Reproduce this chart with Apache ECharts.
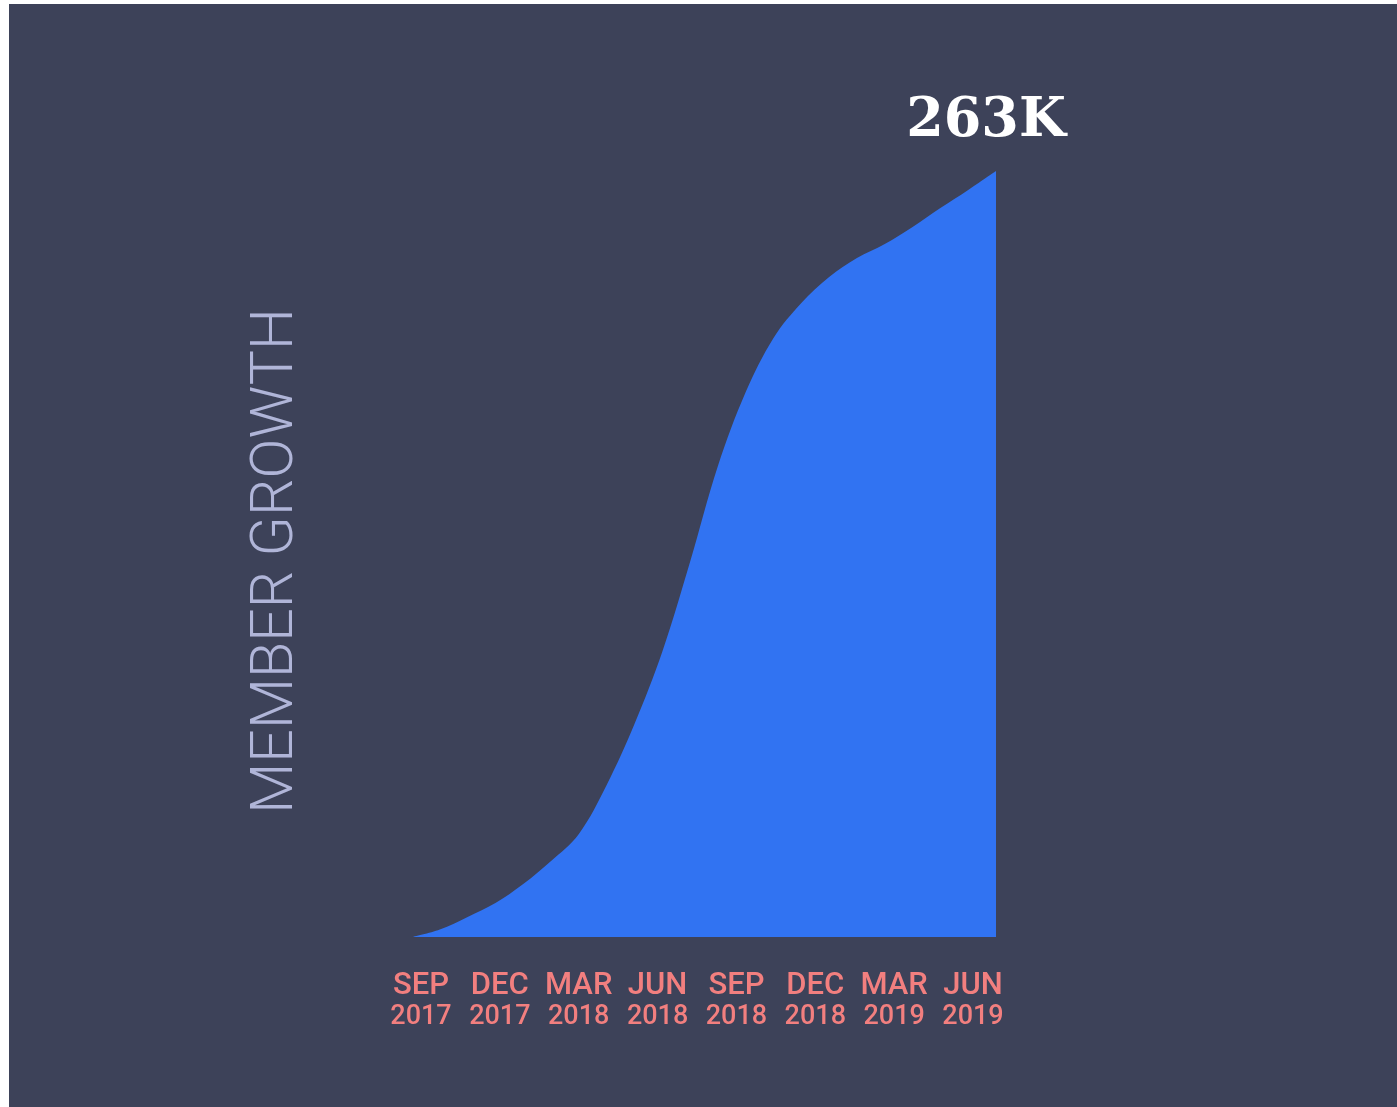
<!DOCTYPE html>
<html>
<head>
<meta charset="utf-8">
<script src="https://cdn.jsdelivr.net/npm/echarts@6/dist/echarts.min.js"></script>
<style>
  html, body { margin: 0; padding: 0; background: #ffffff; width: 1397px; height: 1107px; overflow: hidden; }
  #bg { position: absolute; left: 9px; top: 4px; width: 1388px; height: 1103px; background: #3d4259; }
  #chart { position: absolute; left: 0; top: 0; width: 1397px; height: 1107px; }
</style>
</head>
<body>
<div id="bg"></div>
<div id="chart"></div>
<script>
// Months since Sep 2017 (0 = Sep 2017 ... 21 = Jun 2019)
const monthIndex = [0,1,2,3,4,5,6,7,8,9,10,11,12,13,14,15,16,17,18,19,20,21];
// Members (thousands)
const members = [0, 2.6, 6.9, 11.7, 18.2, 26.1, 35.4, 52.2, 73.1, 97.9, 128.8, 161.7,
                 187.1, 205.7, 217.7, 226.6, 233.1, 237.9, 243.8, 250.3, 256.5, 263];
// Tick labels (every 3 months)
const tickMonths = ['SEP','DEC','MAR','JUN','SEP','DEC','MAR','JUN'];
const tickYears  = ['2017','2017','2018','2018','2018','2018','2019','2019'];
const axisTitle = 'MEMBER GROWTH';

const last = members.length - 1;
const seriesData = monthIndex.map((m, i) => [m, members[i]]);

const chart = echarts.init(document.getElementById('chart'), null, { renderer: 'canvas' });
chart.setOption({
  animation: false,
  backgroundColor: 'transparent',
  grid: [
    { left: 412, right: 401, top: 171, bottom: 170 },
    { left: 421, right: 424, top: 185, bottom: 170 }
  ],
  xAxis: [
    { type: 'value', gridIndex: 0, min: 0, max: 21, show: false },
    {
      type: 'value', gridIndex: 1, min: 0, max: 21, interval: 3,
      axisLine: { show: false }, axisTick: { show: false }, splitLine: { show: false },
      axisLabel: {
        margin: 34,
        formatter: (v) => {
          const i = Math.round(v / 3);
          return '{a|' + tickMonths[i] + '}\n{b|' + tickYears[i] + '}';
        },
        rich: {
          a: { fontFamily: 'Roboto', fontWeight: 500, fontSize: 31, lineHeight: 31, color: '#f27f7f' },
          b: { fontFamily: 'Roboto', fontWeight: 500, fontSize: 27, lineHeight: 31, color: '#f27f7f' }
        }
      }
    }
  ],
  yAxis: [
    { type: 'value', gridIndex: 0, min: 0, max: 263, show: false },
    {
      type: 'value', gridIndex: 1, min: 0, max: 1,
      axisLine: { show: false }, axisTick: { show: false }, splitLine: { show: false },
      axisLabel: { show: false },
      name: axisTitle,
      nameLocation: 'middle',
      nameRotate: 90,
      nameGap: 114,
      nameTextStyle: { fontFamily: 'Roboto', fontWeight: 300, fontSize: 59, color: '#b0b5d8' }
    }
  ],
  series: [{
    type: 'line',
    xAxisIndex: 0,
    yAxisIndex: 0,
    data: seriesData,
    smooth: 0.35,
    symbol: 'none',
    lineStyle: { width: 0 },
    areaStyle: { color: '#3173f2', opacity: 1 },
    z: 2,
    markPoint: {
      symbol: 'circle',
      symbolSize: 0,
      itemStyle: { color: 'rgba(0,0,0,0)' },
      data: [{
        coord: [monthIndex[last], members[last]],
        value: members[last]
      }],
      label: {
        show: true,
        position: 'top',
        distance: 19,
        offset: [-10, 0],
        formatter: (p) => Math.round(p.value) + 'K',
        color: '#ffffff',
        fontFamily: 'DejaVu Serif',
        fontWeight: 'bold',
        fontSize: 54,
        lineHeight: 60
      }
    }
  }]
});
</script>
</body>
</html>
